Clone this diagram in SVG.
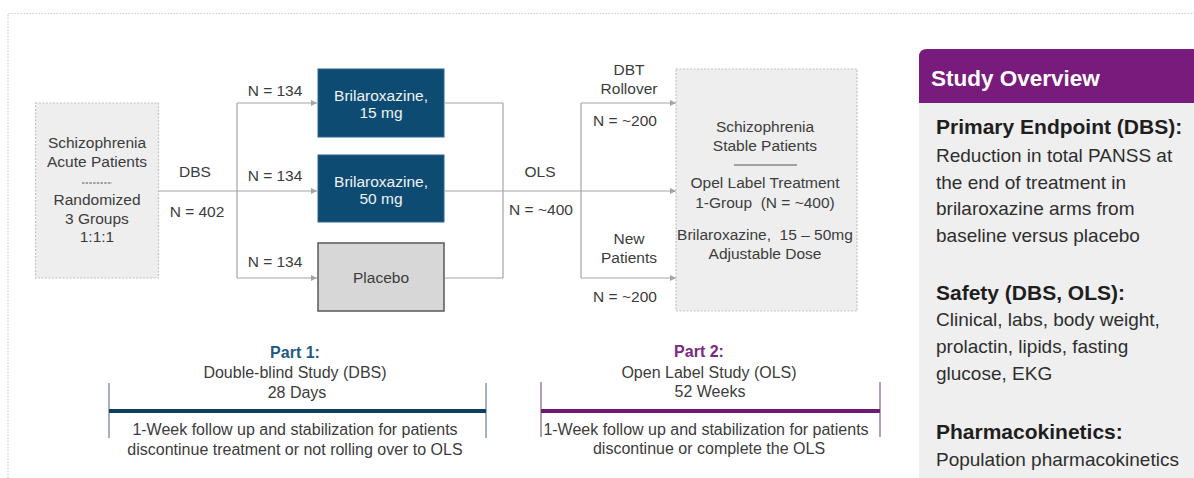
<svg xmlns="http://www.w3.org/2000/svg" width="1194" height="478" viewBox="0 0 1194 478">
<style>
.t{font-family:"Liberation Sans",Arial,sans-serif;font-size:15.5px;fill:#3c3c3c;text-anchor:middle}
.b{font-size:16px}
.w{fill:#eef2f5}
.c{stroke:#a4a4a4;stroke-width:1.2;fill:none}
.ca{stroke:#a4a4a4;stroke-width:1.2;fill:none;marker-end:url(#arr)}
.gbox{fill:#eeeeee;stroke:#c4c4c4;stroke-width:1.2;stroke-dasharray:2 1.5}
.blue{fill:#0e4b72;stroke:#2b6690;stroke-width:1}
.p{font-family:"Liberation Sans",Arial,sans-serif;fill:#2e2e2e}
.ph{font-size:21px;font-weight:bold;fill:#1e1e1e}
.pb{font-size:19px}
</style>
<defs>
<marker id="arr" viewBox="0 0 8 8" refX="8" refY="4" markerWidth="6" markerHeight="6" markerUnits="userSpaceOnUse" orient="auto">
<path d="M0 0 L8 4 L0 8 Z" fill="#a4a4a4"/>
</marker>
</defs>
<rect width="1194" height="478" fill="#ffffff"/>
<path d="M8 478 V13.5 H1194" fill="none" stroke="#cfcfcf" stroke-width="1.2" stroke-dasharray="1.5 1.5"/>

<g id="connectors">
<path class="c" d="M159 191 H237"/>
<path class="c" d="M237 103 V278"/>
<path class="ca" d="M237 103 H317"/>
<path class="ca" d="M237 191 H317"/>
<path class="ca" d="M237 278 H317"/>
<path class="c" d="M445 103 H503 M445 191 H503 M445 278 H503"/>
<path class="c" d="M503 103 V278"/>
<path class="c" d="M503 191 H581"/>
<path class="c" d="M581 103 V278"/>
<path class="ca" d="M581 103 H676"/>
<path class="ca" d="M581 191 H676"/>
<path class="ca" d="M581 278 H676"/>
</g>

<g id="labels">
<text class="t" x="195" y="177">DBS</text>
<text class="t" x="197" y="217">N = 402</text>
<text class="t" x="275" y="96">N = 134</text>
<text class="t" x="275" y="181">N = 134</text>
<text class="t" x="275" y="267">N = 134</text>
<text class="t" x="540" y="177">OLS</text>
<text class="t" x="541" y="215">N = ~400</text>
<text class="t" x="629" y="75">DBT</text>
<text class="t" x="629" y="94">Rollover</text>
<text class="t" x="625" y="126">N = ~200</text>
<text class="t" x="629" y="244">New</text>
<text class="t" x="629" y="263">Patients</text>
<text class="t" x="625" y="302">N = ~200</text>
</g>

<g id="acute">
<rect class="gbox" x="35.5" y="103" width="123" height="175"/>
<text class="t" x="97" y="148">Schizophrenia</text>
<text class="t" x="97" y="167">Acute Patients</text>
<line x1="82" y1="183" x2="112" y2="183" stroke="#555" stroke-width="1" stroke-dasharray="2.5 1.2"/>
<text class="t" x="97" y="205">Randomized</text>
<text class="t" x="97" y="224">3 Groups</text>
<text class="t" x="97" y="242">1:1:1</text>
</g>

<g id="brila15">
<rect class="blue" x="318" y="69" width="126" height="68"/>
<text class="t w" x="381" y="101">Brilaroxazine,</text>
<text class="t w" x="381" y="118">15 mg</text>
</g>

<g id="brila50">
<rect class="blue" x="318" y="155" width="126" height="67"/>
<text class="t w" x="381" y="187">Brilaroxazine,</text>
<text class="t w" x="381" y="204">50 mg</text>
</g>

<g id="placebo">
<rect x="318" y="243" width="126" height="68" fill="#d7d7d7" stroke="#595959" stroke-width="1.5"/>
<text class="t" x="381" y="283">Placebo</text>
</g>

<g id="stable">
<rect class="gbox" x="676" y="69" width="181" height="242"/>
<text class="t" x="765" y="132">Schizophrenia</text>
<text class="t" x="765" y="151">Stable Patients</text>
<line x1="734" y1="165" x2="797" y2="165" stroke="#555" stroke-width="1"/>
<text class="t" x="765" y="188">Opel Label Treatment</text>
<text class="t" x="765" y="208" xml:space="preserve">1-Group  (N = ~400)</text>
<text class="t" x="765" y="240" xml:space="preserve">Brilaroxazine,  15 – 50mg</text>
<text class="t" x="765" y="259">Adjustable Dose</text>
</g>

<g id="part1">
<text class="t b" x="295" y="358" style="font-weight:bold;fill:#1f5a84">Part 1:</text>
<text class="t b" x="295" y="378">Double-blind Study (DBS)</text>
<text class="t b" x="297" y="398">28 Days</text>
<line x1="109" y1="383" x2="109" y2="438" stroke="#8798a6" stroke-width="1.5"/>
<line x1="486" y1="383" x2="486" y2="438" stroke="#8798a6" stroke-width="1.5"/>
<line x1="109" y1="411" x2="486" y2="411" stroke="#0e3f5f" stroke-width="4"/>
<text class="t b" x="295" y="435">1-Week follow up and stabilization for patients</text>
<text class="t b" x="295" y="455">discontinue treatment or not rolling over to OLS</text>
</g>

<g id="part2">
<text class="t b" x="699" y="357" style="font-weight:bold;fill:#7a2a80">Part 2:</text>
<text class="t b" x="709" y="378">Open Label Study (OLS)</text>
<text class="t b" x="710" y="397">52 Weeks</text>
<line x1="541" y1="382" x2="541" y2="437" stroke="#9a7fa0" stroke-width="1.5"/>
<line x1="880" y1="382" x2="880" y2="437" stroke="#9a7fa0" stroke-width="1.5"/>
<line x1="541" y1="411" x2="880" y2="411" stroke="#6e1a72" stroke-width="4"/>
<text class="t b" x="706" y="435">1-Week follow up and stabilization for patients</text>
<text class="t b" x="709" y="454">discontinue or complete the OLS</text>
</g>

<g id="overview">
<rect x="919" y="103" width="275" height="375" fill="#efefef"/>
<path d="M919 103 V57 Q919 49 927 49 H1194 V103 Z" fill="#781b7c"/>
<text class="p" x="931" y="86" style="font-size:22.5px;font-weight:bold;fill:#ffffff">Study Overview</text>
<text class="p ph" x="936" y="134">Primary Endpoint (DBS):</text>
<text class="p pb" x="936" y="162">Reduction in total PANSS at</text>
<text class="p pb" x="936" y="189">the end of treatment in</text>
<text class="p pb" x="936" y="215">brilaroxazine  arms from</text>
<text class="p pb" x="936" y="242">baseline versus placebo</text>
<text class="p ph" x="936" y="300">Safety (DBS, OLS):</text>
<text class="p pb" x="936" y="326">Clinical, labs, body weight,</text>
<text class="p pb" x="936" y="353">prolactin, lipids, fasting</text>
<text class="p pb" x="936" y="380">glucose, EKG</text>
<text class="p ph" x="936" y="439">Pharmacokinetics:</text>
<text class="p pb" x="936" y="466">Population pharmacokinetics</text>
</g>
</svg>
